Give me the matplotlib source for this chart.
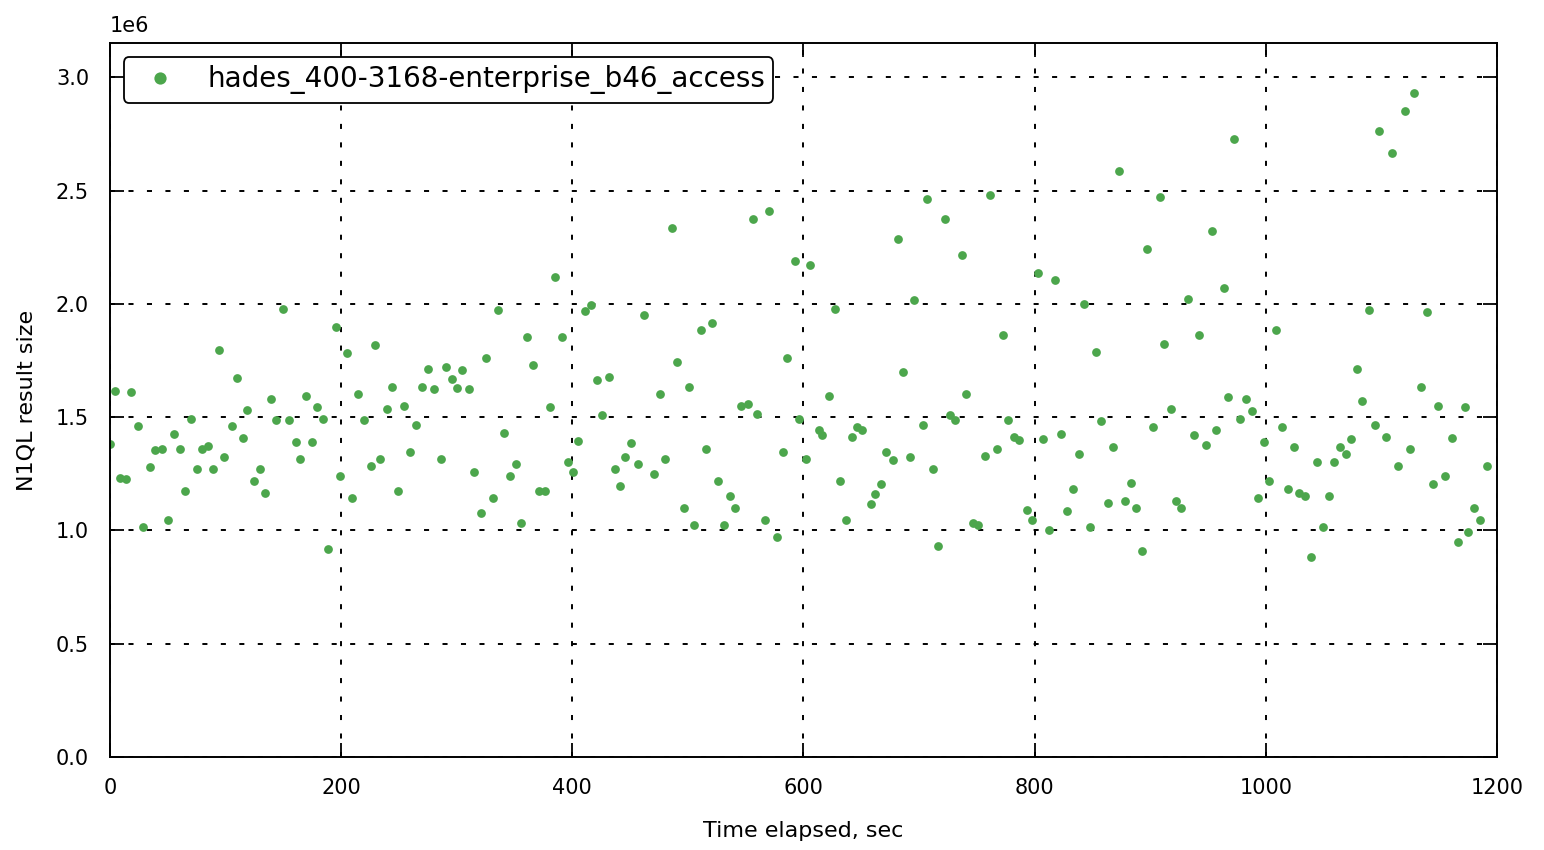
import matplotlib
matplotlib.use("Agg")
import matplotlib.pyplot as plt

# datos: tiempo (s) y tamano del resultado (x1e6)
t = [0, 4, 9, 14, 18, 24, 29, 35, 39, 45, 50, 55, 61, 65, 70, 75, 80, 85, 89, 94,
     99, 106, 110, 115, 119, 125, 130, 134, 139, 144, 150, 155, 161, 164, 170, 175, 179, 184, 189, 196,
     199, 205, 209, 215, 220, 226, 229, 234, 240, 244, 249, 254, 260, 265, 270, 275, 280, 286, 291, 296,
     300, 305, 311, 315, 321, 325, 331, 336, 341, 346, 351, 356, 361, 366, 371, 376, 381, 385, 391, 396,
     401, 405, 411, 416, 421, 426, 432, 437, 441, 446, 451, 457, 462, 471, 476, 480, 486, 491, 497, 501,
     505, 511, 516, 521, 526, 531, 536, 541, 546, 552, 556, 560, 567, 570, 577, 582, 586, 593, 596, 602,
     606, 613, 616, 622, 627, 632, 637, 642, 646, 651, 658, 662, 667, 671, 677, 682, 686, 692, 696, 703,
     707, 712, 716, 722, 727, 731, 737, 741, 747, 751, 757, 761, 767, 773, 777, 782, 786, 793, 798, 803,
     807, 812, 818, 823, 828, 833, 838, 843, 848, 853, 857, 863, 868, 873, 878, 883, 888, 893, 897, 902,
     908, 912, 918, 922, 927, 933, 938, 942, 948, 953, 957, 964, 967, 972, 978, 983, 988, 993, 998, 1003,
     1009, 1014, 1019, 1024, 1029, 1034, 1039, 1044, 1049, 1055, 1059, 1064, 1069, 1074, 1079, 1083, 1089, 1094, 1098, 1104,
     1109, 1114, 1120, 1125, 1128, 1134, 1139, 1145, 1149, 1155, 1161, 1166, 1172, 1175, 1180, 1185, 1191]

size = [1.383, 1.617, 1.233, 1.229, 1.612, 1.463, 1.013, 1.282, 1.357, 1.361,
        1.048, 1.427, 1.361, 1.172, 1.493, 1.273, 1.361, 1.374, 1.269, 1.797,
        1.322, 1.463, 1.674, 1.410, 1.533, 1.220, 1.269, 1.163, 1.581, 1.489,
        1.978, 1.489, 1.392, 1.317, 1.595, 1.392, 1.546, 1.493, 0.916, 1.899,
        1.242, 1.784, 1.141, 1.604, 1.489, 1.286, 1.819, 1.317, 1.537, 1.634,
        1.176, 1.551, 1.348, 1.467, 1.634, 1.714, 1.626, 1.317, 1.722, 1.670,
        1.630, 1.709, 1.626, 1.256, 1.079, 1.762, 1.141, 1.974, 1.432, 1.238,
        1.295, 1.031, 1.855, 1.731, 1.176, 1.176, 1.546, 2.119, 1.855, 1.304,
        1.256, 1.396, 1.969, 1.996, 1.665, 1.511, 1.678, 1.269, 1.198, 1.326,
        1.388, 1.295, 1.952, 1.247, 1.604, 1.317, 2.335, 1.744, 1.101, 1.634,
        1.022, 1.885, 1.361, 1.916, 1.220, 1.026, 1.150, 1.097, 1.551, 1.559,
        2.374, 1.515, 1.044, 2.410, 0.969, 1.348, 1.762, 2.189, 1.493, 1.317,
        2.172, 1.441, 1.423, 1.595, 1.978, 1.216, 1.044, 1.414, 1.458, 1.441,
        1.115, 1.159, 1.203, 1.348, 1.313, 2.286, 1.700, 1.326, 2.018, 1.467,
        2.463, 1.273, 0.930, 2.374, 1.511, 1.489, 2.216, 1.604, 1.031, 1.022,
        1.330, 2.480, 1.361, 1.863, 1.489, 1.414, 1.401, 1.088, 1.048, 2.137,
        1.405, 1.000, 2.106, 1.427, 1.084, 1.181, 1.339, 2.000, 1.013, 1.789,
        1.485, 1.119, 1.370, 2.586, 1.132, 1.211, 1.097, 0.907, 2.242, 1.458,
        2.471, 1.824, 1.537, 1.132, 1.101, 2.022, 1.423, 1.863, 1.379, 2.322,
        1.441, 2.070, 1.590, 2.727, 1.493, 1.581, 1.529, 1.145, 1.392, 1.216,
        1.885, 1.458, 1.181, 1.366, 1.163, 1.150, 0.881, 1.304, 1.013, 1.154,
        1.300, 1.366, 1.339, 1.405, 1.714, 1.573, 1.974, 1.467, 2.762, 1.414,
        2.665, 1.286, 2.850, 1.361, 2.930, 1.634, 1.965, 1.207, 1.551, 1.242,
        1.410, 0.947, 1.546, 0.991, 1.101, 1.048, 1.286]

etiqueta = "hades_400-3168-enterprise_b46_access"

fig = plt.figure(figsize=(15.44, 8.5), dpi=100)
ax = fig.add_axes([0.0712, 0.1094, 0.8984, 0.8397])

ax.plot(t, [v * 1e6 for v in size], "o", color="#4ca64c", markersize=6.3,
        markeredgewidth=0, label=etiqueta)

ax.set_xlim(0, 1200)
ax.set_ylim(0, 3.15e6)
ax.set_yticks([0, 0.5e6, 1.0e6, 1.5e6, 2.0e6, 2.5e6, 3.0e6])
ax.ticklabel_format(axis="y", style="sci", scilimits=(6, 6))
ax.yaxis.get_offset_text().set_fontsize(15)
ax.yaxis.OFFSETTEXTPAD = 8

# rejilla punteada negra (guiones cortos y espaciados)
ax.grid(True, color="black", linestyle=(0, (2.6, 6.9)), linewidth=1.4)
ax.set_axisbelow(True)
ax.tick_params(direction="in", length=10, width=1.3, top=True, right=True,
               labelsize=15, pad=15)
for s in ax.spines.values():
    s.set_linewidth(1.4)

ax.set_xlabel("Time elapsed, sec", fontsize=16, labelpad=17)
ax.set_ylabel("N1QL result size", fontsize=16, labelpad=14)

leg = ax.legend(loc="upper left", numpoints=1, fontsize=20, fancybox=True,
                framealpha=1, borderaxespad=0.5, borderpad=0.3,
                handletextpad=0.7, markerscale=1.4)
leg.get_frame().set_edgecolor("black")
leg.get_frame().set_linewidth(1.3)

fig.savefig("out.png", dpi=100)
